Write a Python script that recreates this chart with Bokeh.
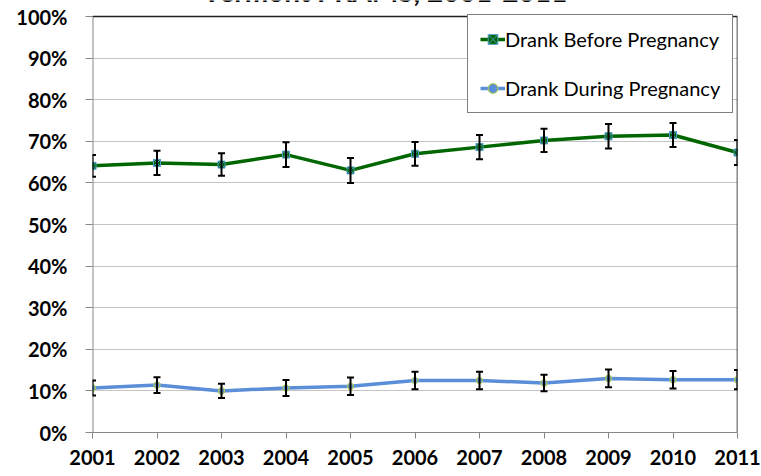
from bokeh.plotting import figure
from bokeh.models import (ColumnDataSource, Whisker, TeeHead, FixedTicker,
                          Label, Legend, LegendItem, Range1d)
from bokeh.embed import file_html
from bokeh.resources import INLINE

# Survey years and tick labels
years = [2001, 2002, 2003, 2004, 2005, 2006, 2007, 2008, 2009, 2010, 2011]
year_labels = [str(y) for y in years]

# Percent of women who drank alcohol, with 95% CI half-widths
before_pct = [64.1, 64.8, 64.4, 66.8, 63.0, 67.0, 68.6, 70.2, 71.2, 71.5, 67.3]
before_err = [2.6, 2.9, 2.7, 3.0, 3.0, 2.85, 2.9, 2.8, 2.95, 2.9, 3.0]
during_pct = [10.7, 11.4, 10.0, 10.7, 11.1, 12.5, 12.5, 11.9, 13.0, 12.7, 12.7]
during_err = [1.8, 1.9, 1.7, 1.9, 2.1, 2.1, 2.1, 2.0, 2.15, 2.1, 2.3]

pct_ticks = [0, 10, 20, 30, 40, 50, 60, 70, 80, 90, 100]
pct_labels = [f"{t}%" for t in pct_ticks]

title_text = "Vermont PRAMS, 2001-2011"

FONT = "Lato"
GREEN = "#006600"
BLUE = "#5A8ED8"
AXIS_GRAY = "#868686"

src_before = ColumnDataSource(dict(
    x=years, y=before_pct,
    lo=[v - e for v, e in zip(before_pct, before_err)],
    hi=[v + e for v, e in zip(before_pct, before_err)],
))
src_during = ColumnDataSource(dict(
    x=years, y=during_pct,
    lo=[v - e for v, e in zip(during_pct, during_err)],
    hi=[v + e for v, e in zip(during_pct, during_err)],
))

# The frame reaches the top of the canvas so the title line above the
# 100% border can be drawn (and trimmed) inside it.
PLOT_H = 416
TOP_PAD = 16
y_top = pct_ticks[-1] * (PLOT_H + TOP_PAD) / PLOT_H

p = figure(frame_width=645, frame_height=PLOT_H + TOP_PAD,
           min_border_left=92, min_border_right=24,
           min_border_top=0, min_border_bottom=44,
           x_range=Range1d(years[0], years[-1]),
           y_range=Range1d(pct_ticks[0], y_top),
           output_backend="svg", toolbar_location=None)
p.outline_line_color = None
p.background_fill_color = "white"
p.border_fill_color = "white"

# Axes
for ax in (p.xaxis, p.yaxis):
    ax.axis_line_color = AXIS_GRAY
    ax.major_tick_line_color = AXIS_GRAY
    ax.minor_tick_line_color = None
    ax.major_tick_in = 0
    ax.major_label_text_font = FONT
    ax.major_label_text_font_style = "bold"
    ax.major_label_text_font_size = "20px"
    ax.major_label_text_color = "black"

p.xaxis.ticker = FixedTicker(ticks=years)
p.xaxis.major_label_overrides = {y: s for y, s in zip(years, year_labels)}
p.xaxis.major_tick_out = 6
p.xaxis.major_label_standoff = 11

p.yaxis.ticker = FixedTicker(ticks=pct_ticks)
p.yaxis.major_label_overrides = {t: s for t, s in zip(pct_ticks, pct_labels)}
p.yaxis.major_tick_out = 7
p.yaxis.major_label_standoff = 18
p.yaxis.axis_line_color = None

p.xgrid.grid_line_color = None
p.ygrid.grid_line_color = "#C4C4C4"
p.ygrid.grid_line_width = 1

# Plot-area edges: gray value axis on the left, dark border top and right
p.segment(x0=[years[0]], y0=[pct_ticks[0]], x1=[years[0]], y1=[pct_ticks[-1]],
          line_color=AXIS_GRAY, line_width=2)
p.segment(x0=[years[0], years[-1]], y0=[pct_ticks[-1], pct_ticks[0]],
          x1=[years[-1], years[-1]], y1=[pct_ticks[-1], pct_ticks[-1]],
          line_color="#202020", line_width=1.6)

# Series lines
line_b = p.line("x", "y", source=src_before, line_color=GREEN, line_width=3.5)
line_d = p.line("x", "y", source=src_during, line_color=BLUE, line_width=3.5)

# Error bars
for src in (src_before, src_during):
    w = Whisker(source=src, base="x", lower="lo", upper="hi",
                line_color="black", line_width=2, level="glyph",
                upper_head=TeeHead(size=7, line_color="black", line_width=2),
                lower_head=TeeHead(size=7, line_color="black", line_width=2))
    p.add_layout(w)

# Markers
mk_b = p.scatter("x", "y", source=src_before, marker="square_x", size=7,
                 fill_color=GREEN, line_color="#4F9AC8", line_width=1)
mk_d = p.scatter("x", "y", source=src_during, marker="circle", size=6,
                 fill_color=BLUE, line_color="#A8C860", line_width=1.2)

# Legend box anchored at the top right corner of the plot area
legend = Legend(items=[
    LegendItem(label="Drank Before Pregnancy", renderers=[line_b, mk_b]),
    LegendItem(label="Drank During Pregnancy", renderers=[line_d, mk_d]),
], location=(375, 319), margin=0, padding=12, spacing=25,
    glyph_width=25, glyph_height=24, label_height=24, label_standoff=0,
    label_text_font=FONT, label_text_font_size="20px", label_text_color="black",
    border_line_color="black", border_line_width=1, background_fill_alpha=1)
p.add_layout(legend)

# Chart title line, mostly above the page edge
p.add_layout(Label(x=2005.53, y=pct_ticks[-1], y_offset=26, text=title_text,
                   text_align="center", text_baseline="middle",
                   text_font=FONT, text_font_style="bold", text_font_size="28px",
                   text_color="black"))

open("out.html", "w").write(file_html(p, INLINE))
